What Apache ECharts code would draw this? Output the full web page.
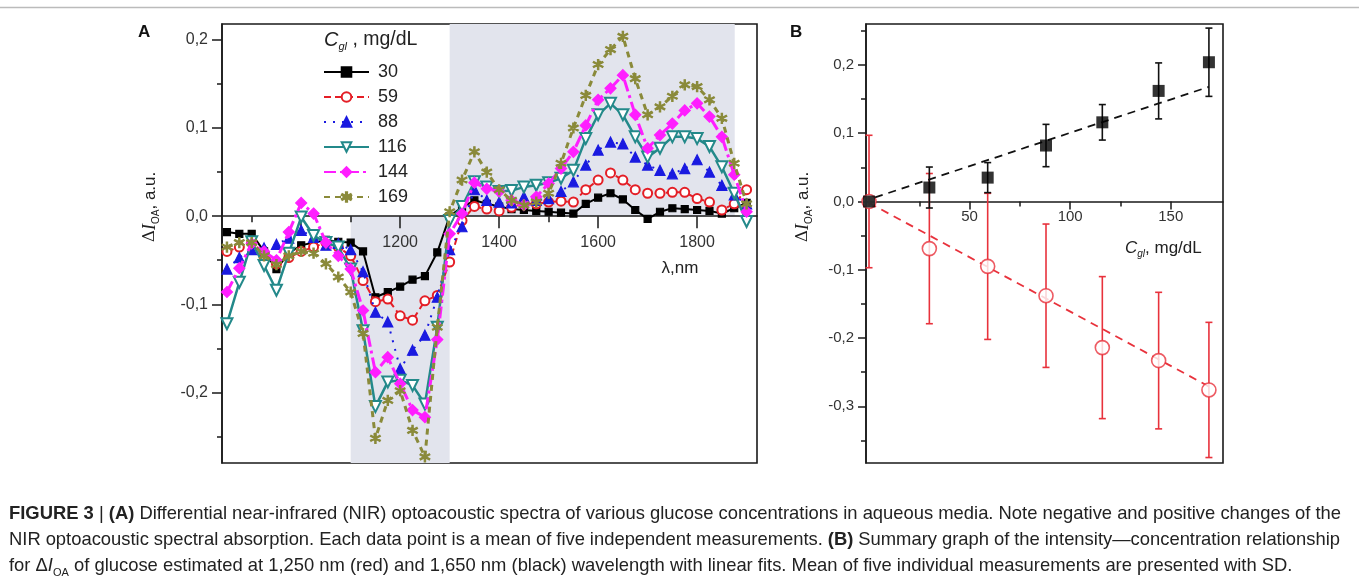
<!DOCTYPE html>
<html><head><meta charset="utf-8">
<script src="https://cdn.jsdelivr.net/npm/echarts@6/dist/echarts.min.js"></script>
<style>html,body{margin:0;padding:0;background:#fff}#c{width:1359px;height:581px}</style>
</head><body><div id="c"></div>
<script>
// ---------- Panel A data ----------
const wavelengths = [850,875,900,925,950,975,1000,1025,1050,1075,1100,1125,1150,1175,1200,1225,1250,1275,1300,1325,1350,1375,1400,1425,1450,1475,1500,1525,1550,1575,1600,1625,1650,1675,1700,1725,1750,1775,1800,1825,1850,1875,1900];
const conc30  = [-0.018,-0.020,-0.020,-0.040,-0.060,-0.042,-0.033,-0.030,-0.027,-0.029,-0.030,-0.040,-0.092,-0.086,-0.080,-0.072,-0.068,-0.041,0.000,0.010,0.018,0.014,0.011,0.008,0.007,0.006,0.005,0.004,0.003,0.014,0.021,0.026,0.019,0.007,-0.003,0.005,0.009,0.008,0.007,0.006,0.003,0.009,0.015];
const conc59  = [-0.040,-0.035,-0.030,-0.042,-0.054,-0.047,-0.040,-0.035,-0.030,-0.035,-0.045,-0.073,-0.097,-0.094,-0.113,-0.118,-0.096,-0.090,-0.052,-0.005,0.011,0.008,0.006,0.010,0.014,0.014,0.016,0.017,0.016,0.030,0.041,0.049,0.041,0.030,0.026,0.026,0.027,0.027,0.020,0.016,0.007,0.014,0.030];
const conc88  = [-0.060,-0.047,-0.038,-0.036,-0.032,-0.025,-0.016,-0.024,-0.033,-0.031,-0.038,-0.063,-0.109,-0.120,-0.173,-0.152,-0.135,-0.092,-0.038,-0.012,0.030,0.018,0.016,0.015,0.022,0.018,0.020,0.028,0.039,0.058,0.075,0.084,0.082,0.067,0.058,0.052,0.048,0.054,0.064,0.050,0.035,0.024,0.014];
const conc116 = [-0.122,-0.075,-0.029,-0.056,-0.084,-0.042,-0.001,-0.022,-0.030,-0.035,-0.060,-0.130,-0.216,-0.188,-0.186,-0.192,-0.213,-0.126,-0.005,0.011,0.039,0.033,0.028,0.029,0.033,0.035,0.038,0.043,0.052,0.088,0.115,0.128,0.115,0.090,0.067,0.077,0.090,0.090,0.088,0.079,0.056,0.026,-0.006];
const conc144 = [-0.086,-0.059,-0.031,-0.040,-0.050,-0.018,0.015,0.003,-0.030,-0.045,-0.060,-0.107,-0.177,-0.160,-0.190,-0.220,-0.228,-0.140,-0.020,0.003,0.038,0.031,0.028,0.018,0.0125,0.022,0.037,0.054,0.073,0.103,0.132,0.145,0.160,0.115,0.077,0.092,0.105,0.120,0.128,0.113,0.090,0.047,0.005];
const conc169 = [-0.035,-0.030,-0.030,-0.045,-0.055,-0.045,-0.040,-0.042,-0.054,-0.069,-0.086,-0.133,-0.252,-0.209,-0.198,-0.243,-0.273,-0.126,0.005,0.041,0.073,0.050,0.030,0.018,0.0125,0.016,0.026,0.060,0.100,0.137,0.172,0.189,0.204,0.156,0.115,0.124,0.136,0.149,0.147,0.132,0.111,0.060,0.014];
const seriesNamesA = ['30','59','88','116','144','169'];
const shadeLow  = [1100, 1300];   // shaded band below zero (nm)
const shadeHigh = [1300, 1876];   // shaded band above zero (nm)
const xTicksMajorA = [1000,1200,1400,1600,1800];
const xLabelsA = [1200,1400,1600,1800];
const xTicksMinorA = [900,1100,1300,1500,1700,1900];
const yLabelsA = [-0.2,-0.1,0,0.1,0.2];
const yTicksMinorA = [-0.25,-0.15,-0.05,0.05,0.15];

// ---------- Panel B data ----------
const concB = [0,30,59,88,116,144,169];
const black1650 = [0,0.0205,0.035,0.082,0.116,0.162,0.204];
const black1650Sd = [0,0.030,0.022,0.031,0.026,0.041,0.050];
const red1250 = [0,-0.069,-0.095,-0.138,-0.214,-0.233,-0.276];
const red1250Sd = [0.097,0.110,0.107,0.105,0.104,0.100,0.099];
const blackFit = [[3,0.006],[169,0.168]];
const redFit = [[0,-0.002],[169,-0.271]];
const xLabelsB = [50,100,150];
const xTicksMinorB = [25,75,125];
const yLabelsB = [-0.3,-0.2,-0.1,0,0.1,0.2];
const yTicksMinorB = [-0.35,-0.25,-0.15,-0.05,0.05,0.15,0.25];

// ---------- Caption ----------
const captionLine1 = 'FIGURE 3 | (A) Differential near-infrared (NIR) optoacoustic spectra of various glucose concentrations in aqueous media. Note negative and positive changes of the';
const captionLine2 = 'NIR optoacoustic spectral absorption. Each data point is a mean of five independent measurements. (B) Summary graph of the intensity—concentration relationship';
const captionLine3 = 'for Δ{i|I}{s|OA} of glucose estimated at 1,250 nm (red) and 1,650 nm (black) wavelength with linear fits. Mean of five individual measurements are presented with SD.';
const captionBold = ['FIGURE', '3', '(A)', '(B)'];

const FF = 'Liberation Sans, Arial, sans-serif';
const CAP = 18.4;
const yMinA = -0.28, yMaxA = 0.218, yMinB = -0.383, yMaxB = 0.26;
const gridA = {left:222, top:24, width:535, height:439};
const gridB = {left:866, top:24, width:357, height:439};
const chart = echarts.init(document.getElementById('c'), null, {renderer:'canvas'});
const fmt = v => (Math.abs(v) < 1e-9 ? '0,0' : v.toFixed(1).replace('.', ','));
const starPath = 'path://M-1.2,-10L1.2,-10L1.2,10L-1.2,10Z M-9.3,-3.96L8.1,6.04L9.3,3.96L-8.1,-6.04Z M-8.1,6.04L9.3,-3.96L8.1,-6.04L-9.3,3.96Z';

const styleA = {
  '30':  {color:'#000000', line:{width:2, type:'solid'}, symbol:'rect', size:7},
  '59':  {color:'#e41e26', line:{width:2, type:[7,4]}, symbol:'emptyCircle', size:9},
  '88':  {color:'#1a1ae0', line:{width:2, type:[2,7]}, symbol:'triangle', size:10},
  '116': {color:'#23898a', line:{width:2.5, type:'solid'}, symbol:'emptyTriangle', size:11, rotate:180},
  '144': {color:'#ff1eff', line:{width:3, type:[12,4,3,4]}, symbol:'diamond', size:11},
  '169': {color:'#8a8a3a', line:{width:3, type:[6,5]}, symbol:starPath, size:10}
};
const valuesA = [conc30, conc59, conc88, conc116, conc144, conc169];

const seriesA = seriesNamesA.map((n, k) => {
  const st = styleA[n];
  const s = {
    name: n, type: 'line', xAxisIndex: 0, yAxisIndex: 0,
    data: wavelengths.map((w, i) => [w, valuesA[k][i]]),
    symbol: st.symbol, symbolSize: st.size, symbolRotate: st.rotate || 0,
    itemStyle: {color: st.color, borderColor: st.color, borderWidth: 1.2},
    lineStyle: Object.assign({color: st.color}, st.line),
    z: 3 + k, animation: false
  };
  if (k === 0) {
    s.markArea = {silent: true, z: 1, itemStyle: {color: '#e2e4ed'}, data: [
      [{coord: [shadeLow[0], 0]}, {coord: [shadeLow[1], yMinA]}],
      [{coord: [shadeHigh[0], 0]}, {coord: [shadeHigh[1], yMaxA]}]
    ]};
  }
  return s;
});

function errRender(color) {
  return function (params, api) {
    const x = api.value(0), lo = api.value(1), hi = api.value(2);
    const p1 = api.coord([x, hi]), p2 = api.coord([x, lo]);
    const w = 3.5;
    const st = {stroke: color, lineWidth: 1.6};
    return {type: 'group', children: [
      {type:'line', shape:{x1:p1[0], y1:p1[1], x2:p2[0], y2:p2[1]}, style: st},
      {type:'line', shape:{x1:p1[0]-w, y1:p1[1], x2:p1[0]+w, y2:p1[1]}, style: st},
      {type:'line', shape:{x1:p2[0]-w, y1:p2[1], x2:p2[0]+w, y2:p2[1]}, style: st}
    ]};
  };
}
const RED = '#e8323c';
const seriesB = [
  {type:'custom', xAxisIndex:2, yAxisIndex:2, renderItem: errRender(RED),
   data: concB.map((c,i)=>[c, red1250[i]-red1250Sd[i], red1250[i]+red1250Sd[i]]), z:3, animation:false, silent:true},
  {type:'line', xAxisIndex:2, yAxisIndex:2, data: redFit, symbol:'none',
   lineStyle:{color:RED, width:1.8, type:[8,6]}, z:3, animation:false, silent:true},
  {type:'scatter', xAxisIndex:2, yAxisIndex:2, data: concB.map((c,i)=>[c, red1250[i]]),
   symbol:'circle', symbolSize:14, itemStyle:{color:'#fff', borderColor:RED, borderWidth:1.6}, z:4, animation:false, silent:true},
  {type:'custom', xAxisIndex:2, yAxisIndex:2, renderItem: errRender('#111'),
   data: concB.map((c,i)=>[c, black1650[i]-black1650Sd[i], black1650[i]+black1650Sd[i]]).filter((d,i)=>black1650Sd[i]>0), z:5, animation:false, silent:true},
  {type:'line', xAxisIndex:2, yAxisIndex:2, data: blackFit, symbol:'none',
   lineStyle:{color:'#111', width:1.8, type:[8,6]}, z:5, animation:false, silent:true},
  {type:'scatter', xAxisIndex:2, yAxisIndex:2, data: concB.map((c,i)=>[c, black1650[i]]),
   symbol:'rect', symbolSize:12, itemStyle:{color:'#000'}, z:6, animation:false, silent:true}
];

const axLine = {lineStyle:{color:'#1a1a1a', width:1.5}};
const lblA = {color:'#333', fontSize:16, fontFamily:FF};
const lblB = {color:'#333', fontSize:15, fontFamily:FF};
const tickLine = {color:'#1a1a1a', width:1.5};
const plain = v => String(v);

// justified caption lines (word by word)
const mctx = document.createElement('canvas').getContext('2d');
function justifiedLine(str, y, x0, x1) {
  const words = str.split(' ').map(t => ({t, b: captionBold.indexOf(t) >= 0}));
  const widths = words.map(w => { mctx.font = (w.b ? 'bold ' : '') + CAP + 'px ' + FF; return mctx.measureText(w.t).width; });
  const total = widths.reduce((a, b) => a + b, 0);
  const gap = (x1 - x0 - total) / (words.length - 1);
  const out = [];
  let x = x0;
  words.forEach((w, i) => {
    out.push({type:'text', x: x, y: y, silent: true, style:{text: w.t, verticalAlign:'middle',
      font: (w.b ? 'bold ' : '') + CAP + 'px ' + FF, fill:'#222'}});
    x += widths[i] + gap;
  });
  return out;
}

function buildOption(offA, offB) {
  return {
  backgroundColor: '#ffffff',
  animation: false,
  grid: [
    Object.assign({show:true, borderColor:'#1a1a1a', borderWidth:1.6, backgroundColor:'transparent'}, gridA),
    Object.assign({show:true, borderColor:'#1a1a1a', borderWidth:1.6, backgroundColor:'transparent'}, gridB)
  ],
  xAxis: [
    {gridIndex:0, type:'value', min:840, max:1921, position:'bottom', offset:offA, z:2,
     axisLine:Object.assign({onZero:false}, axLine),
     axisTick:{customValues:xTicksMajorA, length:12, lineStyle:tickLine},
     axisLabel:Object.assign({customValues:xLabelsA, margin:18, formatter:plain}, lblA), splitLine:{show:false}},
    {gridIndex:0, type:'value', min:840, max:1921, position:'bottom', offset:offA, z:2,
     axisLine:{show:false, onZero:false},
     axisTick:{customValues:xTicksMinorA, length:6, lineStyle:tickLine},
     axisLabel:{show:false}, splitLine:{show:false}},
    {gridIndex:1, type:'value', min:-1.5, max:176, position:'bottom', offset:offB, z:2,
     axisLine:Object.assign({onZero:false}, axLine),
     axisTick:{customValues:xLabelsB, length:8, lineStyle:tickLine},
     axisLabel:Object.assign({customValues:xLabelsB, margin:8, formatter:plain}, lblB), splitLine:{show:false}},
    {gridIndex:1, type:'value', min:-1.5, max:176, position:'bottom', offset:offB, z:2,
     axisLine:{show:false, onZero:false},
     axisTick:{customValues:xTicksMinorB, length:5, lineStyle:tickLine},
     axisLabel:{show:false}, splitLine:{show:false}}
  ],
  yAxis: [
    {gridIndex:0, type:'value', min:yMinA, max:yMaxA, position:'left', z:2,
     axisLine:Object.assign({onZero:false}, axLine),
     axisTick:{customValues:yLabelsA, length:10, lineStyle:tickLine},
     axisLabel:Object.assign({customValues:yLabelsA, margin:14, formatter:fmt}, lblA), splitLine:{show:false}},
    {gridIndex:0, type:'value', min:yMinA, max:yMaxA, position:'left', z:2,
     axisLine:{show:false, onZero:false},
     axisTick:{customValues:yTicksMinorA, length:5, lineStyle:tickLine},
     axisLabel:{show:false}, splitLine:{show:false}},
    {gridIndex:1, type:'value', min:yMinB, max:yMaxB, position:'left', z:2,
     axisLine:Object.assign({onZero:false}, axLine),
     axisTick:{customValues:yLabelsB, length:8, lineStyle:tickLine},
     axisLabel:Object.assign({customValues:yLabelsB, margin:12, formatter:fmt}, lblB), splitLine:{show:false}},
    {gridIndex:1, type:'value', min:yMinB, max:yMaxB, position:'left', z:2,
     axisLine:{show:false, onZero:false},
     axisTick:{customValues:yTicksMinorB, length:5, lineStyle:tickLine},
     axisLabel:{show:false}, splitLine:{show:false}}
  ],
  legend: {
    data: seriesNamesA, orient:'vertical', left:323, top:63, padding:0, itemWidth:45, itemHeight:12, itemGap:7,
    selectedMode:false,
    textStyle:{fontSize:18, color:'#222', fontFamily:FF, lineHeight:18, padding:[0,0,0,4]}
  },
  series: seriesA.concat(seriesB),
  graphic: [
    {type:'text', left:138, top:24, style:{text:'A', font:'bold 17px ' + FF, fill:'#111'}},
    {type:'text', left:790, top:24, style:{text:'B', font:'bold 17px ' + FF, fill:'#111'}},
    {type:'text', x:324, y:40, style:{text:'{i|C}{s|gl}{n| , mg/dL}', verticalAlign:'middle', rich:{
      i:{fontSize:20, fontStyle:'italic', fontFamily:FF, fill:'#222', lineHeight:24},
      s:{fontSize:11, fontStyle:'italic', fontFamily:FF, fill:'#222', lineHeight:24, verticalAlign:'bottom'},
      n:{fontSize:19.5, fontFamily:FF, fill:'#222', lineHeight:24}}}},
    {type:'text', x:150, y:207, rotation:Math.PI/2, style:{text:'{d|Δ}{i|I}{s|OA}{n|, a.u.}', align:'center', verticalAlign:'middle', rich:{
      d:{fontSize:17, fontFamily:'DejaVu Serif, serif', fill:'#222', lineHeight:22},
      i:{fontSize:18, fontStyle:'italic', fontFamily:'Liberation Serif, serif', fill:'#222', lineHeight:22},
      s:{fontSize:10, fontFamily:FF, fill:'#222', lineHeight:22, verticalAlign:'bottom'},
      n:{fontSize:17, fontFamily:FF, fill:'#222', lineHeight:22}}}},
    {type:'text', x:803, y:207, rotation:Math.PI/2, style:{text:'{d|Δ}{i|I}{s|OA}{n|, a.u.}', align:'center', verticalAlign:'middle', rich:{
      d:{fontSize:17, fontFamily:'DejaVu Serif, serif', fill:'#222', lineHeight:22},
      i:{fontSize:18, fontStyle:'italic', fontFamily:'Liberation Serif, serif', fill:'#222', lineHeight:22},
      s:{fontSize:10, fontFamily:FF, fill:'#222', lineHeight:22, verticalAlign:'bottom'},
      n:{fontSize:17, fontFamily:FF, fill:'#222', lineHeight:22}}}},
    {type:'text', x:680, y:268, style:{text:'λ,nm', align:'center', verticalAlign:'middle', font:'17px ' + FF, fill:'#222'}},
    {type:'text', x:1125, y:248, style:{text:'{i|C}{s|gl}{n|, mg/dL}', verticalAlign:'middle', rich:{
      i:{fontSize:17, fontStyle:'italic', fontFamily:FF, fill:'#222', lineHeight:22},
      s:{fontSize:10, fontStyle:'italic', fontFamily:FF, fill:'#222', lineHeight:22, verticalAlign:'bottom'},
      n:{fontSize:17, fontFamily:FF, fill:'#222', lineHeight:22}}}},
    {type:'line', shape:{x1:0, y1:7.5, x2:1359, y2:7.5}, style:{stroke:'#bbb', lineWidth:1.5}}
  ].concat(justifiedLine(captionLine1, 514, 9, 1341))
   .concat(justifiedLine(captionLine2, 540, 9, 1340))
   .concat([
    {type:'text', x:9, y:566, style:{verticalAlign:'middle', text:captionLine3,
      font:CAP + 'px ' + FF, fill:'#222', rich:{i:{fontStyle:'italic', fontSize:CAP, fontFamily:FF, fill:'#222'}, s:{fontSize:11, fontFamily:FF, fill:'#222', verticalAlign:'bottom', lineHeight:24}}}}
   ])
  };
}
chart.setOption(buildOption(0, 0));
// place the x axes on the zero line of their value axes
const zeroA = chart.convertToPixel({yAxisIndex:0}, 0);
const zeroB = chart.convertToPixel({yAxisIndex:2}, 0);
chart.setOption(buildOption(zeroA - (gridA.top + gridA.height), zeroB - (gridB.top + gridB.height)));
</script>
</body></html>
